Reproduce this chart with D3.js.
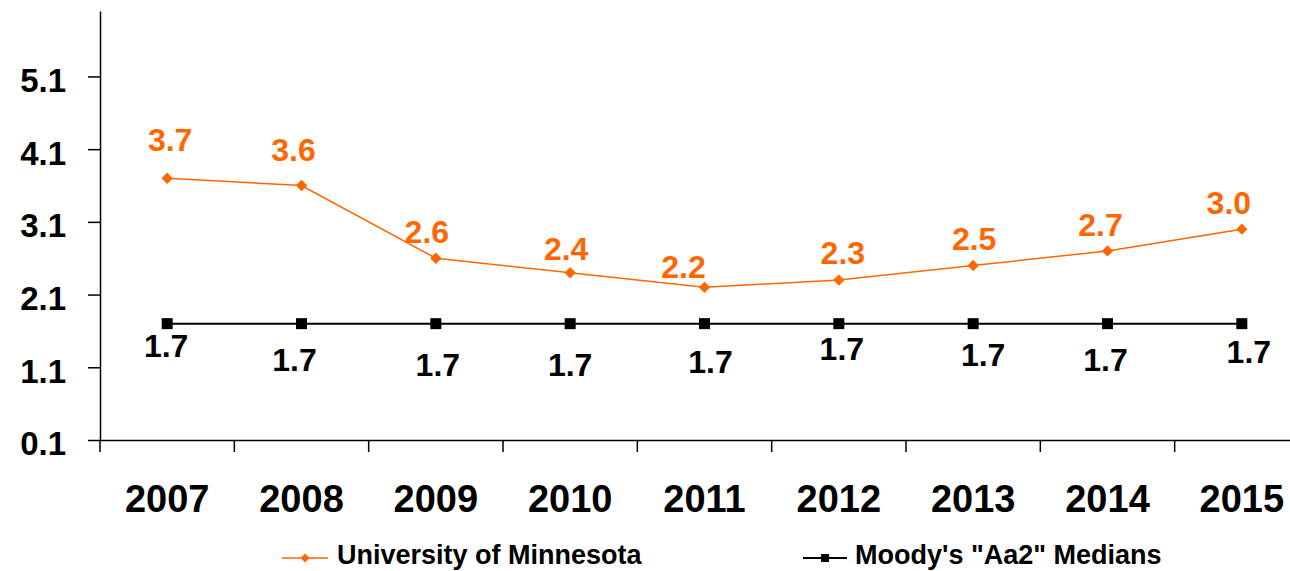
<!DOCTYPE html>
<html>
<head>
<meta charset="utf-8">
<script src="https://cdn.jsdelivr.net/npm/d3@7"></script>
<style>
  body { margin: 0; background: #fff; }
  svg { display: block; font-family: "Liberation Sans", Arial, sans-serif; font-weight: bold; }
  .axis path, .axis line { stroke: #000; stroke-width: 1.5px; }
</style>
</head>
<body>
<div class="chart"></div>
<script>
// values
const years = ["2007", "2008", "2009", "2010", "2011", "2012", "2013", "2014", "2015"];
const uofm = [3.7, 3.6, 2.6, 2.4, 2.2, 2.3, 2.5, 2.7, 3.0];
const moodys = [1.7, 1.7, 1.7, 1.7, 1.7, 1.7, 1.7, 1.7, 1.7];
const yTicks = [0.1, 1.1, 2.1, 3.1, 4.1, 5.1];
const seriesNames = ["University of Minnesota", "Moody's \"Aa2\" Medians"];

// hand placed data labels (Excel style), nudges relative to the point
const uofmLabelNudge = [[3, -39], [-8, -36], [-9, -27], [-4, -24], [-21, -21], [4, -28], [1, -27], [-7, -26], [-13, -27]];
const moodysLabelNudge = [[-1, 22], [-7, 36], [2, 41], [0, 41], [6, 38], [3, 25], [10, 31], [-2, 36], [7, 28]];

let width = 1290,
  height = 571,
  orange = "#ff6600";

let svg = d3.select(".chart")
  .append("svg")
  .attr("width", width)
  .attr("height", height);

let x = d3.scaleBand().domain(years).range([100, 1309]).padding(0);
let y = d3.scaleLinear().domain([0.1, 6.0]).range([440, 11]);
let cx = d => x(d) + x.bandwidth() / 2;

// Y axis
let yAxis = svg.append("g")
  .attr("class", "y axis")
  .attr("transform", "translate(100,0)")
  .call(d3.axisLeft(y).tickValues(yTicks).tickFormat(d3.format(".1f"))
    .tickSize(12).tickSizeOuter(0).tickPadding(22));
yAxis.selectAll("text")
  .attr("font-size", 33)
  .attr("font-family", "Liberation Sans, Arial, sans-serif")
  .attr("font-weight", "bold")
  .attr("fill", "#000")
  .attr("dy", "0.45em");

// X axis (labels at band centres, ticks at band edges)
let xAxis = svg.append("g")
  .attr("class", "x axis")
  .attr("transform", "translate(0,440)")
  .call(d3.axisBottom(x).tickSize(0).tickSizeOuter(0).tickPadding(0));
xAxis.selectAll("text")
  .attr("font-size", 38)
  .attr("font-family", "Liberation Sans, Arial, sans-serif")
  .attr("font-weight", "bold")
  .attr("fill", "#000")
  .attr("y", 72)
  .attr("dy", 0);
xAxis.selectAll(".edge")
  .data(years)
  .enter().append("line")
  .attr("class", "edge")
  .attr("x1", d => x(d))
  .attr("x2", d => x(d))
  .attr("y1", 0)
  .attr("y2", 12);

// Moody's line
let line = d3.line().x((d, i) => cx(years[i])).y(d => y(d));

svg.append("path")
  .datum(moodys)
  .attr("fill", "none")
  .attr("stroke", "#000")
  .attr("stroke-width", 2)
  .attr("d", line);

svg.selectAll(".sq")
  .data(moodys)
  .enter().append("rect")
  .attr("class", "sq")
  .attr("x", (d, i) => cx(years[i]) - 5.5)
  .attr("y", d => y(d) - 5.5)
  .attr("width", 11)
  .attr("height", 11)
  .attr("fill", "#000");

// University of Minnesota line
svg.append("path")
  .datum(uofm)
  .attr("fill", "none")
  .attr("stroke", orange)
  .attr("stroke-width", 1.5)
  .attr("d", line);

let diamond = d3.symbol().type(d3.symbolSquare).size(64);
svg.selectAll(".dia")
  .data(uofm)
  .enter().append("path")
  .attr("class", "dia")
  .attr("d", diamond)
  .attr("transform", (d, i) => `translate(${cx(years[i])},${y(d)}) rotate(45)`)
  .attr("fill", orange);

// data labels
svg.selectAll(".ulab")
  .data(uofm)
  .enter().append("text")
  .attr("class", "ulab")
  .attr("x", (d, i) => cx(years[i]) + uofmLabelNudge[i][0])
  .attr("y", (d, i) => y(d) + uofmLabelNudge[i][1] + 11.5)
  .attr("text-anchor", "middle")
  .attr("font-size", 32)
  .attr("fill", orange)
  .text(d => d.toFixed(1));

svg.selectAll(".mlab")
  .data(moodys)
  .enter().append("text")
  .attr("class", "mlab")
  .attr("x", (d, i) => cx(years[i]) + moodysLabelNudge[i][0])
  .attr("y", (d, i) => y(d) + moodysLabelNudge[i][1] + 11.5)
  .attr("text-anchor", "middle")
  .attr("font-size", 32)
  .attr("fill", "#000")
  .text(d => d.toFixed(1));

// legend
let legend = svg.append("g").attr("class", "legend");
legend.append("line")
  .attr("x1", 282).attr("x2", 328).attr("y1", 558).attr("y2", 558)
  .attr("stroke", orange).attr("stroke-width", 1.5);
legend.append("path")
  .attr("d", d3.symbol().type(d3.symbolSquare).size(40))
  .attr("transform", "translate(305,558) rotate(45)")
  .attr("fill", orange);
legend.append("text")
  .attr("x", 337).attr("y", 564)
  .attr("font-size", 27)
  .text(seriesNames[0]);

legend.append("line")
  .attr("x1", 803).attr("x2", 847).attr("y1", 558).attr("y2", 558)
  .attr("stroke", "#000").attr("stroke-width", 2);
legend.append("rect")
  .attr("x", 821).attr("y", 554).attr("width", 8).attr("height", 8)
  .attr("fill", "#000");
legend.append("text")
  .attr("x", 855).attr("y", 564)
  .attr("font-size", 27)
  .text(seriesNames[1]);
</script>
</body>
</html>
